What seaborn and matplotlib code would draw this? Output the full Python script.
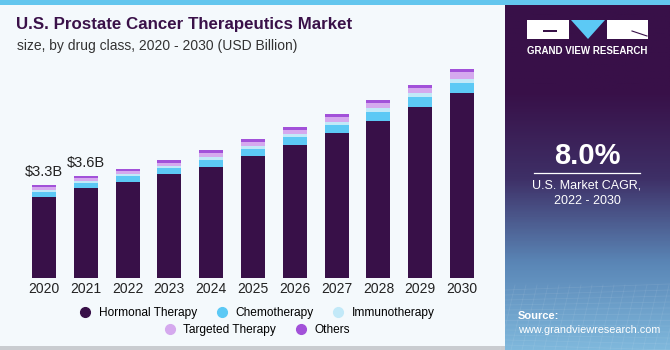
import numpy as np
import pandas as pd
import matplotlib
matplotlib.use("Agg")
import matplotlib.pyplot as plt
from matplotlib.patches import Rectangle, Polygon
import seaborn as sns

# chart data (USD Billion)
years = ["2020", "2021", "2022", "2023", "2024", "2025", "2026", "2027", "2028", "2029", "2030"]
hormonal = [2.91, 3.22, 3.46, 3.72, 4.00, 4.38, 4.77, 5.19, 5.65, 6.13, 6.62]
chemo = [0.17, 0.19, 0.20, 0.21, 0.25, 0.25, 0.28, 0.30, 0.31, 0.35, 0.36]
immuno = [0.07, 0.06, 0.07, 0.09, 0.10, 0.10, 0.11, 0.10, 0.13, 0.14, 0.17]
targeted = [0.10, 0.10, 0.11, 0.12, 0.15, 0.14, 0.15, 0.19, 0.18, 0.20, 0.24]
others = [0.07, 0.09, 0.08, 0.10, 0.08, 0.10, 0.10, 0.10, 0.10, 0.11, 0.11]
segments = ["Hormonal Therapy", "Chemotherapy", "Immunotherapy", "Targeted Therapy", "Others"]
colors = ["#381048", "#5cc9f5", "#c2e9f8", "#d5a9ee", "#a251d9"]
value_labels = ["$3.3B", "$3.6B"]

df = pd.DataFrame({"year": years, "Hormonal Therapy": hormonal, "Chemotherapy": chemo,
                   "Immunotherapy": immuno, "Targeted Therapy": targeted, "Others": others})
cum = df[segments].cumsum(axis=1)

W, H = 670, 350
fig = plt.figure(figsize=(6.7, 3.5), dpi=100)
fig.patch.set_facecolor("#f4f9fc")

# background / decorations in pixel coordinates
bg = fig.add_axes([0, 0, 1, 1], zorder=0)
bg.set_xlim(0, W)
bg.set_ylim(H, 0)
bg.axis("off")
bg.add_patch(Rectangle((0, 0), W, 5, color="#63c6ee", lw=0))
bg.add_patch(Rectangle((0, 346), 505, 4, color="#c9ccd0", lw=0))
# side panel with gradient at the bottom
grad = np.linspace(0, 1, 200)[:, None]
panel_cmap = matplotlib.colors.LinearSegmentedColormap.from_list(
    "panel", ["#381048", "#381048", "#3e2f66", "#5a86b6", "#7fb8dc"])
bg.imshow(grad, extent=(505, W, 350, 5), cmap=panel_cmap, aspect="auto", zorder=1)
for k in range(12):
    yy = 290 + k * 5
    bg.plot([505, W], [yy, yy - 6 + k], color="white", alpha=0.08, lw=0.6, zorder=2)
for k in range(16):
    xx = 505 + k * 11
    bg.plot([xx + 10, xx - 5], [285, 350], color="white", alpha=0.08, lw=0.6, zorder=2)

# logo
bg.add_patch(Rectangle((527, 20), 42, 19, color="white", lw=0, zorder=3))
bg.add_patch(Rectangle((543, 30), 14, 2, color="#381048", lw=0, zorder=4))
bg.add_patch(Polygon([(571, 20), (605, 20), (588, 39)], closed=True, color="#5cc9f5", lw=0, zorder=3))
bg.add_patch(Rectangle((607, 20), 41, 19, color="white", lw=0, zorder=3))
bg.plot([632, 647], [31, 36], color="#381048", lw=0.8, zorder=4)
bg.text(587, 51, "GRAND VIEW RESEARCH", color="white", fontsize=7, fontweight="bold",
        ha="center", va="center", family="Liberation Sans", zorder=4)
bg.text(587, 156, "8.0%", color="white", fontsize=21, fontweight="bold",
        ha="center", va="center", family="Liberation Sans", zorder=4)
bg.plot([534, 640], [173, 173], color="white", lw=0.9, zorder=4)
bg.text(587, 186, "U.S. Market CAGR,", color="white", fontsize=9,
        ha="center", va="center", family="Liberation Sans", zorder=4)
bg.text(587, 201, "2022 - 2030", color="white", fontsize=9,
        ha="center", va="center", family="Liberation Sans", zorder=4)
bg.text(518, 316, "Source:", color="white", fontsize=8, fontweight="bold",
        ha="left", va="center", family="Liberation Sans", zorder=4)
bg.text(518, 330, "www.grandviewresearch.com", color="white", fontsize=7.8,
        ha="left", va="center", family="Liberation Sans", zorder=4)

# titles
bg.text(16, 25, "U.S. Prostate Cancer Therapeutics Market", color="#3a1149", fontsize=12.2,
        fontweight="bold", ha="left", va="center", family="Liberation Sans")
bg.text(17, 46, "size, by drug class, 2020 - 2030 (USD Billion)", color="#333333", fontsize=10,
        ha="left", va="center", family="Liberation Sans")

# main bar chart
ax = fig.add_axes([23 / W, 72 / H, 460 / W, 223 / H], zorder=2)
ax.patch.set_alpha(0)
for seg, c in reversed(list(zip(segments, colors))):
    sns.barplot(x=df["year"], y=cum[seg], color=c, width=0.575, saturation=1,
                edgecolor="none", ax=ax, zorder=2)
ax.set_ylim(0, 8)
ax.set_xlim(-0.5, 10.5)
ax.set_xlabel("")
ax.set_ylabel("")
ax.set_yticks([])
ax.tick_params(axis="x", length=0, pad=3, labelsize=10, labelcolor="#222222")
for lab in ax.get_xticklabels():
    lab.set_family("Liberation Sans")
for s in ax.spines.values():
    s.set_visible(False)

totals = cum["Others"]
for i, txt in enumerate(value_labels):
    ax.text(i, totals[i] + 0.22, txt, ha="center", va="bottom", fontsize=10.5,
            color="#222222", family="Liberation Sans")

# legend in two rows
handles = [plt.Line2D([], [], marker="o", ls="", color=c, markersize=7) for c in colors]
leg1 = fig.legend(handles[:3], segments[:3], loc="center", bbox_to_anchor=(254 / W, 1 - 313 / H),
                  ncol=3, frameon=False, handletextpad=0.1, columnspacing=1.1,
                  prop={"family": "Liberation Sans", "size": 8.6})
leg2 = fig.legend(handles[3:], segments[3:], loc="center", bbox_to_anchor=(254 / W, 1 - 330 / H),
                  ncol=2, frameon=False, handletextpad=0.1, columnspacing=1.1,
                  prop={"family": "Liberation Sans", "size": 8.6})

fig.savefig("out.png", dpi=100, facecolor=fig.get_facecolor())
